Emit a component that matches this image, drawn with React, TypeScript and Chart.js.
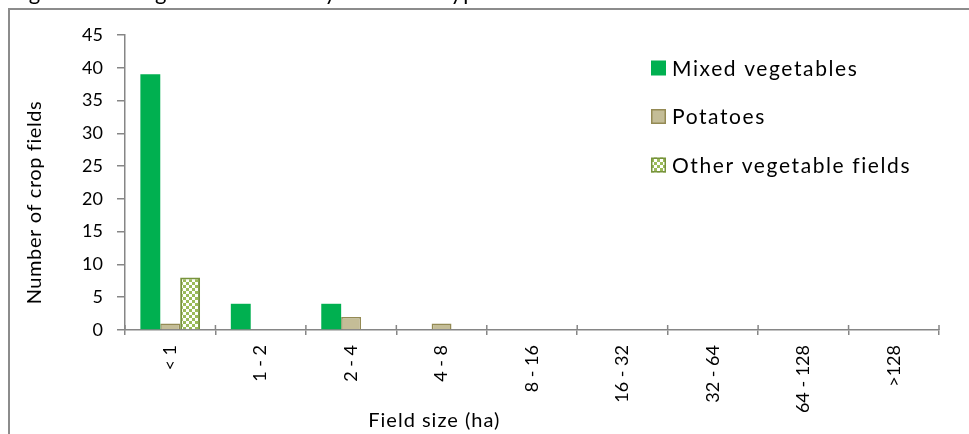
import React, { useEffect, useRef } from 'react';
import { Chart, registerables } from 'chart.js';

Chart.register(...registerables);

const categories = ['< 1', '1 - 2', '2 - 4', '4 - 8', '8 - 16', '16 - 32', '32 - 64', '64 - 128', '>128'];
const mixedVegetables = [39, 4, 4, 0, 0, 0, 0, 0, 0];
const potatoes = [1, 0, 2, 1, 0, 0, 0, 0, 0];
const otherVegetableFields = [8, 0, 0, 0, 0, 0, 0, 0, 0];
const seriesNames = ['Mixed vegetables', 'Potatoes', 'Other vegetable fields'];
const chartTitle = 'Figure 5.6 Vegetable fields by size and type';
const xAxisTitle = 'Field size (ha)';
const yAxisTitle = 'Number of crop fields';
const yMax = 45;
const yStep = 5;

const FONT = 'Lato, "Open Sans", sans-serif';
const AXIS = '#868686';

function makeChecker(): CanvasPattern | string {
  const c = document.createElement('canvas');
  c.width = 6;
  c.height = 6;
  const g = c.getContext('2d');
  if (!g) return '#9BBB59';
  g.fillStyle = '#ffffff';
  g.fillRect(0, 0, 6, 6);
  g.fillStyle = '#9BBB59';
  g.fillRect(0, 0, 3, 3);
  g.fillRect(3, 3, 3, 3);
  const p = g.createPattern(c, 'repeat');
  return p || '#9BBB59';
}

const decorPlugin = {
  id: 'decor',
  afterDraw(chart: any) {
    const ctx = chart.ctx as CanvasRenderingContext2D;
    const xs = chart.scales.x;
    const ys = chart.scales.y;
    ctx.save();
    // upward halves of category boundary ticks on x axis
    ctx.strokeStyle = AXIS;
    ctx.lineWidth = 1.5;
    const n = xs.ticks.length;
    for (let i = 0; i <= n; i++) {
      const x = xs.left + ((xs.right - xs.left) * i) / n;
      ctx.beginPath();
      ctx.moveTo(x, xs.top - 5);
      ctx.lineTo(x, xs.top);
      ctx.stroke();
    }
    // chart title (cut off at top, as in reference)
    ctx.fillStyle = '#000';
    ctx.font = `22px ${FONT}`;
    (ctx as any).letterSpacing = '1.5px';
    ctx.textAlign = 'left';
    ctx.textBaseline = 'alphabetic';
    ctx.fillText(chartTitle, 8, -0.5);
    // axis titles
    (ctx as any).letterSpacing = '1px';
    ctx.font = `20px ${FONT}`;
    ctx.textAlign = 'center';
    ctx.textBaseline = 'middle';
    ctx.fillText(xAxisTitle, xs.left + (xs.right - xs.left) * 0.38, 421);
    ctx.save();
    ctx.translate(35, (ys.top + ys.bottom) / 2 + 20);
    ctx.rotate(-Math.PI / 2);
    (ctx as any).letterSpacing = '0.6px';
    ctx.fillText(yAxisTitle, 0, 0);
    ctx.restore();
    // legend
    ctx.font = `21px ${FONT}`;
    (ctx as any).letterSpacing = '1.6px';
    ctx.textAlign = 'left';
    ctx.textBaseline = 'middle';
    chart.data.datasets.forEach((ds: any, i: number) => {
      const cy = 68 + i * 48.5;
      const x = 651;
      ctx.fillStyle = ds.backgroundColor;
      ctx.fillRect(x, cy - 7.5, 15, 15);
      if (ds.borderWidth) {
        ctx.strokeStyle = ds.borderColor;
        ctx.lineWidth = 1.5;
        ctx.strokeRect(x + 0.75, cy - 6.75, 13.5, 13.5);
      }
      ctx.fillStyle = '#000';
      ctx.fillText(ds.label, 672, cy + 1);
    });
    ctx.restore();
  },
};

export default function App() {
  const ref = useRef<HTMLCanvasElement | null>(null);
  useEffect(() => {
    if (!ref.current) return;
    const checker = makeChecker();
    const chart = new Chart(ref.current, {
      type: 'bar',
      data: {
        labels: categories,
        datasets: [
          {
            label: seriesNames[0],
            data: mixedVegetables,
            backgroundColor: '#00B050',
            borderWidth: 0,
          },
          {
            label: seriesNames[1],
            data: potatoes,
            backgroundColor: '#C4BD97',
            borderColor: '#948A54',
            borderWidth: 1.5,
          },
          {
            label: seriesNames[2],
            data: otherVegetableFields,
            backgroundColor: checker as any,
            borderColor: '#77933C',
            borderWidth: 2,
          },
        ],
      },
      options: {
        animation: false,
        responsive: true,
        maintainAspectRatio: false,
        layout: { padding: { left: 65, top: 35, right: 30, bottom: 0 } },
        datasets: { bar: { barPercentage: 1, categoryPercentage: 0.66 } },
        plugins: {
          legend: { display: false },
          tooltip: { enabled: false },
          title: { display: false },
        },
        scales: {
          x: {
            offset: true,
            grid: {
              offset: true,
              drawOnChartArea: false,
              drawTicks: true,
              tickLength: 5,
              color: AXIS,
              lineWidth: 1.5,
            },
            border: { display: true, color: AXIS, width: 1.5 },
            ticks: {
              minRotation: 90,
              maxRotation: 90,
              autoSkip: false,
              padding: 10,
              color: '#000',
              font: { family: FONT, size: 18 },
            },
            afterFit: (s: any) => {
              s.height = 104;
            },
          },
          y: {
            min: 0,
            max: yMax,
            ticks: {
              stepSize: yStep,
              padding: 14,
              color: '#000',
              font: { family: FONT, size: 18 },
            },
            grid: {
              drawOnChartArea: false,
              drawTicks: true,
              tickLength: 8,
              color: AXIS,
              lineWidth: 1.5,
            },
            border: { display: true, color: AXIS, width: 1.5 },
            afterFit: (s: any) => {
              s.width = 60;
            },
          },
        },
      },
      plugins: [decorPlugin],
    });
    return () => chart.destroy();
  }, []);

  return (
    <div
      style={{
        position: 'fixed',
        left: 0,
        top: 0,
        width: 969,
        height: 434,
        background: '#fff',
        overflow: 'hidden',
      }}
    >
      <div
        style={{
          position: 'absolute',
          left: 8,
          top: 8,
          width: 1000,
          height: 500,
          borderLeft: '2px solid #8c8c8c',
          borderTop: '2px solid #8c8c8c',
        }}
      />
      <div style={{ position: 'absolute', left: 0, top: 0, width: 969, height: 434 }}>
        <canvas ref={ref} />
      </div>
    </div>
  );
}
